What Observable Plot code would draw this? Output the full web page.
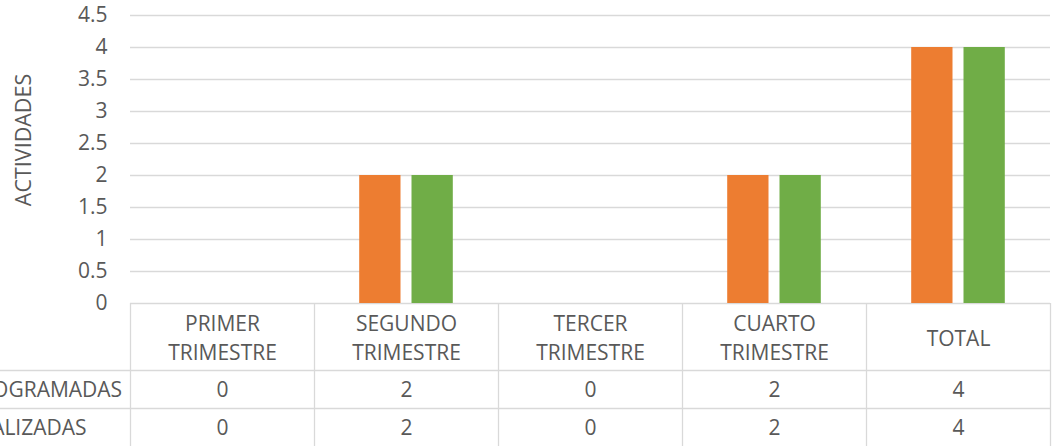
<!DOCTYPE html>
<html>
<head>
<meta charset="utf-8">
<script src="https://cdn.jsdelivr.net/npm/d3@7"></script>
<script src="https://cdn.jsdelivr.net/npm/@observablehq/plot@0.6"></script>
<style>
  html, body { margin: 0; padding: 0; background: #ffffff; overflow: hidden; }
</style>
</head>
<body>
<div id="chart"></div>
<script>
// ---- data ----
const categories = ["PRIMER\nTRIMESTRE", "SEGUNDO\nTRIMESTRE", "TERCER\nTRIMESTRE", "CUARTO\nTRIMESTRE", "TOTAL"];
const programadas = [0, 2, 0, 2, 4];
const realizadas = [0, 2, 0, 2, 4];
const seriesNames = ["PROGRAMADAS", "REALIZADAS"];
const yTicks = [0, 0.5, 1, 1.5, 2, 2.5, 3, 3.5, 4, 4.5];
const yLabel = "ACTIVIDADES";

// ---- layout ----
const W = 1057, H = 446;
const ML = 130, MR = 7, MT = 15, MB = 143;
const colW = (W - ML - MR) / categories.length;
const barW = 41.3, gap = 11;
const outer = colW / 2 - gap / 2 - barW;
const inner = colW / 2 + gap / 2;
const grid = "#d9d9d9";
const ink = "#595959";

const rowsP = programadas.map((v, i) => ({cat: categories[i], v}));
const rowsR = realizadas.map((v, i) => ({cat: categories[i], v}));

const chart = Plot.plot({
  width: W,
  height: H,
  marginLeft: ML,
  marginRight: MR,
  marginTop: MT,
  marginBottom: MB,
  style: {fontFamily: "'Open Sans', sans-serif", fontSize: "21px", color: ink, background: "#ffffff", overflow: "visible"},
  x: {type: "band", domain: categories, padding: 0, axis: null},
  y: {domain: [0, 4.5], ticks: yTicks, tickSize: 0, tickPadding: 23, tickFormat: d => String(d), label: null},
  marks: [
    Plot.ruleY(yTicks, {stroke: grid, strokeWidth: 1.3}),
    // table horizontal lines
    Plot.ruleY([0], {stroke: grid, strokeWidth: 1.3, dy: 67, insetLeft: -ML}),
    Plot.ruleY([0], {stroke: grid, strokeWidth: 1.3, dy: 105, insetLeft: -ML}),
    // table vertical lines
    Plot.ruleX(categories, {x: d => d, y1: 0, y2: 0, insetBottom: -MB, dx: -colW / 2, stroke: grid, strokeWidth: 1.3}),
    Plot.ruleX(categories.slice(-1), {x: d => d, y1: 0, y2: 0, insetBottom: -MB, dx: colW / 2, stroke: grid, strokeWidth: 1.3}),
    // bars
    Plot.barY(rowsP, {x: "cat", y: "v", fill: "#ED7D31", insetLeft: outer, insetRight: inner}),
    Plot.barY(rowsR, {x: "cat", y: "v", fill: "#70AD47", insetLeft: inner, insetRight: outer}),
    // table header
    Plot.text(categories, {x: d => d, y: 0, dy: 33, text: d => d, lineHeight: 1.36, fill: ink}),
    // table values
    Plot.text(rowsP, {x: "cat", y: 0, dy: 87, text: d => String(d.v), fill: ink}),
    Plot.text(rowsR, {x: "cat", y: 0, dy: 125, text: d => String(d.v), fill: ink}),
    // row labels
    Plot.text([seriesNames[0]], {frameAnchor: "bottom-left", dx: -ML - 34, dy: 87, textAnchor: "start", lineAnchor: "middle", fill: ink}),
    Plot.text([seriesNames[1]], {frameAnchor: "bottom-left", dx: -ML - 34, dy: 125, textAnchor: "start", lineAnchor: "middle", fill: ink}),
    // y label
    Plot.text([yLabel], {frameAnchor: "top-left", dx: -ML + 24, dy: 139.5 - MT, rotate: -90, textAnchor: "middle", lineAnchor: "middle", fontSize: 21.5, fill: ink})
  ]
});
document.getElementById("chart").appendChild(chart);
</script>
</body>
</html>
